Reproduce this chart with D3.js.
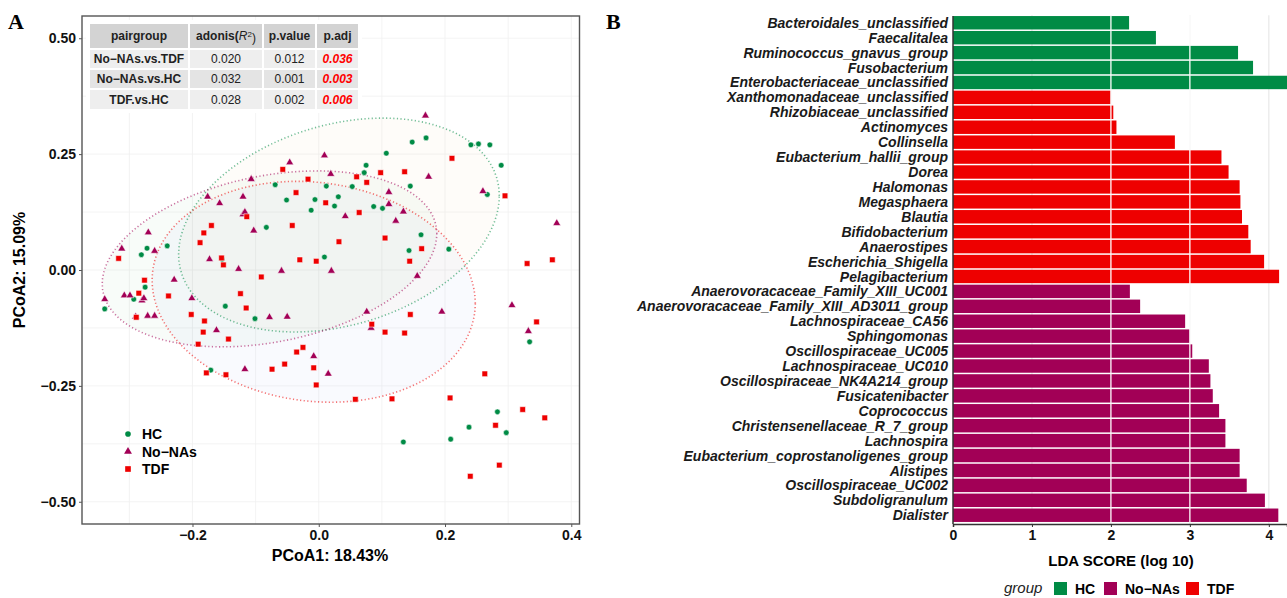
<!DOCTYPE html>
<html>
<head>
<meta charset="utf-8">
<script src="https://cdn.jsdelivr.net/npm/d3@7"></script>
<style>
  body { margin: 0; background: #fff; }
  text { font-family: "Liberation Sans", Arial, sans-serif; }
</style>
</head>
<body>
<div id="chart"></div>
<script>
// ---------- data: panel A (PCoA) ----------
const groups = ["HC", "No\u2212NAs", "TDF"];
const groupColors = ["#008B45", "#A20056", "#EE0000"];
const ellipseFills = ["#E8A050", "#3AA050", "#4A66D8"];

const hcPoints = [
  [-0.272, 0.047], [-0.281, 0.033], [-0.240, 0.052], [-0.153, 0.023], [-0.275, -0.037],
  [-0.293, -0.063], [-0.339, -0.084], [-0.148, -0.078], [-0.171, -0.216], [0.107, 0.252],
  [0.075, 0.226], [0.072, 0.210], [-0.069, 0.184], [0.012, 0.181], [0.053, 0.180],
  [-0.051, 0.151], [-0.006, 0.152], [0.031, 0.158], [-0.012, 0.129], [0.025, 0.138],
  [0.087, 0.137], [0.101, 0.133], [-0.083, 0.092], [0.009, 0.028], [-0.101, -0.105],
  [0.148, 0.276], [0.170, 0.285], [0.241, 0.270], [0.253, 0.272], [0.271, 0.270],
  [0.289, 0.226], [0.145, 0.181], [0.267, 0.163], [0.162, 0.076], [0.143, 0.042],
  [0.206, 0.045], [0.334, -0.155], [0.283, -0.306], [0.238, -0.339], [0.297, -0.351],
  [0.209, -0.365], [0.134, -0.371]
];
const noNAsPoints = [
  [-0.176, 0.158], [-0.157, 0.144], [-0.270, 0.081], [-0.312, 0.046], [-0.260, 0.041],
  [-0.173, 0.023], [-0.127, 0.002], [-0.229, -0.021], [-0.339, -0.063], [-0.308, -0.055],
  [-0.299, -0.055], [-0.280, -0.066], [-0.277, -0.061], [-0.290, -0.101], [-0.271, -0.099],
  [-0.260, -0.099], [-0.201, -0.061], [-0.162, -0.130], [-0.046, 0.232], [0.009, 0.247],
  [-0.107, 0.196], [0.019, 0.207], [-0.120, 0.158], [-0.120, 0.120], [-0.117, 0.125],
  [-0.103, 0.085], [0.042, 0.116], [0.111, 0.168], [0.111, 0.142], [0.122, 0.106],
  [0.134, 0.126], [-0.059, -0.002], [0.020, -0.002], [-0.078, -0.102], [-0.050, -0.101],
  [0.076, -0.090], [0.083, -0.125], [-0.008, -0.186], [0.015, -0.224], [-0.117, -0.214],
  [0.169, 0.333], [0.174, 0.201], [0.260, 0.170], [0.377, 0.101], [0.156, -0.013],
  [0.195, -0.090], [0.306, -0.076], [0.332, -0.132]
];
const tdfPoints = [
  [-0.170, 0.096], [-0.182, 0.080], [-0.188, 0.059], [-0.317, 0.025], [-0.154, 0.026],
  [-0.151, 0.011], [-0.276, -0.022], [-0.285, -0.050], [-0.238, -0.056], [-0.289, -0.102],
  [-0.202, -0.096], [-0.181, -0.110], [-0.183, -0.134], [-0.191, -0.160], [-0.143, -0.149],
  [-0.178, -0.222], [-0.147, -0.226], [-0.124, -0.051], [-0.057, 0.217], [-0.017, 0.196],
  [-0.036, 0.167], [0.060, 0.201], [0.076, 0.189], [0.098, 0.210], [0.136, 0.212],
  [0.011, 0.145], [-0.114, 0.115], [0.064, 0.124], [-0.042, 0.096], [0.032, 0.061],
  [0.105, 0.069], [-0.030, 0.022], [-0.004, 0.019], [-0.091, -0.015], [-0.115, -0.082],
  [0.084, -0.117], [0.105, -0.134], [0.136, -0.136], [-0.035, -0.177], [-0.025, -0.167],
  [-0.054, -0.203], [-0.074, -0.214], [-0.008, -0.211], [-0.004, -0.248], [0.058, -0.279],
  [0.116, -0.278], [0.211, 0.241], [0.295, 0.160], [0.163, 0.046], [0.144, 0.019],
  [0.330, 0.014], [0.370, 0.022], [0.145, -0.096], [0.345, -0.112], [0.263, -0.224],
  [0.208, -0.276], [0.323, -0.301], [0.358, -0.319], [0.280, -0.335], [0.286, -0.421],
  [0.240, -0.445]
];
// ellipse: centre and shape matrix [a11, a21, a22] in data units
const hcEllipse = [0.032, 0.097, 0.254, 0.063, 0.222];
const noNAsEllipse = [-0.078, 0.024, 0.265, 0.054, 0.182];
const tdfEllipse = [-0.008, -0.047, 0.256, -0.025, 0.237];

// adonis table
const tableHeader = ["pairgroup", "adonis", "p.value", "p.adj"];
const pairgroups = ["No\u2212NAs.vs.TDF", "No\u2212NAs.vs.HC", "TDF.vs.HC"];
const adonisR2 = ["0.020", "0.032", "0.028"];
const pValues = ["0.012", "0.001", "0.002"];
const pAdj = ["0.036", "0.003", "0.006"];

// ---------- data: panel B (LEfSe) ----------
const taxa = [
  "Bacteroidales_unclassified", "Faecalitalea", "Ruminococcus_gnavus_group", "Fusobacterium",
  "Enterobacteriaceae_unclassified", "Xanthomonadaceae_unclassified", "Rhizobiaceae_unclassified",
  "Actinomyces", "Collinsella", "Eubacterium_hallii_group", "Dorea", "Halomonas", "Megasphaera",
  "Blautia", "Bifidobacterium", "Anaerostipes", "Escherichia_Shigella", "Pelagibacterium",
  "Anaerovoracaceae_Family_XIII_UC001", "Anaerovoracaceae_Family_XIII_AD3011_group",
  "Lachnospiraceae_CA56", "Sphingomonas", "Oscillospiraceae_UC005", "Lachnospiraceae_UC010",
  "Oscillospiraceae_NK4A214_group", "Fusicatenibacter", "Coprococcus",
  "Christensenellaceae_R_7_group", "Lachnospira", "Eubacterium_coprostanoligenes_group",
  "Alistipes", "Oscillospiraceae_UC002", "Subdoligranulum", "Dialister"
];
const ldaScores = [
  2.23, 2.57, 3.61, 3.80, 4.24, 2.00, 2.03, 2.07, 2.81, 3.40, 3.49, 3.63, 3.64, 3.66, 3.74,
  3.77, 3.94, 4.13, 2.24, 2.37, 2.94, 3.00, 3.03, 3.24, 3.26, 3.29, 3.37, 3.45, 3.45, 3.63,
  3.63, 3.72, 3.95, 4.12
];
const taxaGroup = [
  "HC", "HC", "HC", "HC", "HC",
  "TDF", "TDF", "TDF", "TDF", "TDF", "TDF", "TDF", "TDF", "TDF", "TDF", "TDF", "TDF", "TDF",
  "No\u2212NAs", "No\u2212NAs", "No\u2212NAs", "No\u2212NAs", "No\u2212NAs", "No\u2212NAs", "No\u2212NAs",
  "No\u2212NAs", "No\u2212NAs", "No\u2212NAs", "No\u2212NAs", "No\u2212NAs", "No\u2212NAs", "No\u2212NAs",
  "No\u2212NAs", "No\u2212NAs"
];
const ldaTicks = [0, 1, 2, 3, 4];

const color = d3.scaleOrdinal().domain(groups).range(groupColors);

const svg = d3.select("#chart").append("svg")
  .attr("width", 1287)
  .attr("height", 598)
  .style("background", "#fff");

// panel letters
svg.append("text").attr("x", 8).attr("y", 29)
  .style("font-family", "'Liberation Serif', 'Times New Roman', serif")
  .style("font-weight", "bold").style("font-size", "22px").text("A");
svg.append("text").attr("x", 606).attr("y", 29)
  .style("font-family", "'Liberation Serif', 'Times New Roman', serif")
  .style("font-weight", "bold").style("font-size", "22px").text("B");

/* ---------- Panel A ---------- */
let a = {left: 82, right: 579.5, top: 16, bottom: 524};

let x = d3.scaleLinear().domain([-0.375, 0.413]).range([a.left, a.right]);
let y = d3.scaleLinear().domain([-0.548, 0.548]).range([a.bottom, a.top]);

let pa = svg.append("g");

// grid
pa.selectAll(".gx").data(d3.range(-3, 5).map(d => d / 10))
  .enter().append("line")
  .attr("x1", d => x(d)).attr("x2", d => x(d))
  .attr("y1", a.top).attr("y2", a.bottom)
  .attr("stroke", "#F0F0F0").attr("stroke-width", 0.8);
pa.selectAll(".gy").data(d3.range(-4, 5).map(d => d * 0.125))
  .enter().append("line")
  .attr("y1", d => y(d)).attr("y2", d => y(d))
  .attr("x1", a.left).attr("x2", a.right)
  .attr("stroke", "#F0F0F0").attr("stroke-width", 0.8);

// ellipses
let ellipses = [hcEllipse, noNAsEllipse, tdfEllipse];
let line = d3.line().x(d => x(d[0])).y(d => y(d[1]));
let ellipsePts = e => d3.range(0, 101).map(i => {
  let t = i / 100 * 2 * Math.PI;
  return [e[0] + e[2] * Math.cos(t), e[1] + e[3] * Math.cos(t) + e[4] * Math.sin(t)];
});
pa.selectAll(".ell-fill").data(ellipses)
  .enter().append("path")
  .attr("d", d => line(ellipsePts(d)) + "Z")
  .attr("fill", (d, i) => ellipseFills[i])
  .attr("fill-opacity", 0.035)
  .attr("stroke", "none");
pa.selectAll(".ell-line").data(ellipses)
  .enter().append("path")
  .attr("d", d => line(ellipsePts(d)) + "Z")
  .attr("fill", "none")
  .attr("stroke", (d, i) => groupColors[i])
  .attr("stroke-opacity", 0.55)
  .attr("stroke-width", 1.6)
  .attr("stroke-dasharray", "1.2,2.4");

// points
let symbolTypes = [d3.symbolCircle, d3.symbolTriangle, d3.symbolSquare];
let symbolSizes = [25, 27, 32];
[hcPoints, noNAsPoints, tdfPoints].forEach((pts, gi) => {
  pa.selectAll(".pt" + gi).data(pts)
    .enter().append("path")
    .attr("d", d3.symbol().type(symbolTypes[gi]).size(symbolSizes[gi]))
    .attr("transform", d => `translate(${x(d[0])},${y(d[1])})`)
    .attr("fill", groupColors[gi])
    .attr("stroke", "#fff")
    .attr("stroke-opacity", 0.7)
    .attr("stroke-width", 0.8);
});

// border
pa.append("rect")
  .attr("x", a.left).attr("y", a.top)
  .attr("width", a.right - a.left).attr("height", a.bottom - a.top)
  .attr("fill", "none").attr("stroke", "#555").attr("stroke-width", 1.4);

// axes
let xAxis = pa.append("g").attr("transform", `translate(0,${a.bottom})`)
  .call(d3.axisBottom(x).tickValues([-0.2, 0, 0.2, 0.4]).tickFormat(d3.format(".1f")).tickSize(3).tickPadding(3));
let yAxis = pa.append("g").attr("transform", `translate(${a.left},0)`)
  .call(d3.axisLeft(y).tickValues([-0.5, -0.25, 0, 0.25, 0.5]).tickFormat(d3.format(".2f")).tickSize(3).tickPadding(3));
[xAxis, yAxis].forEach(ax => {
  ax.select(".domain").remove();
  ax.selectAll(".tick line").attr("stroke", "#555");
  ax.selectAll(".tick text").attr("fill", "#111")
    .style("font-size", "14px").style("font-weight", "bold");
});

pa.append("text").attr("x", 330).attr("y", 561)
  .attr("text-anchor", "middle")
  .style("font-size", "16px").style("font-weight", "bold")
  .text("PCoA1: 18.43%");
pa.append("text")
  .attr("transform", "translate(25,270) rotate(-90)")
  .attr("text-anchor", "middle")
  .style("font-size", "16px").style("font-weight", "bold")
  .text("PCoA2: 15.09%");

// legend A
let legA = pa.append("g");
groups.forEach((g, i) => {
  legA.append("path")
    .attr("d", d3.symbol().type(symbolTypes[i]).size(symbolSizes[i]))
    .attr("transform", `translate(128,${434 + i * 17.5})`)
    .attr("fill", groupColors[i]);
  legA.append("text")
    .attr("x", 142).attr("y", 434 + i * 17.5).attr("dy", "0.36em")
    .style("font-size", "14px").style("font-weight", "bold")
    .text(g);
});

// adonis table
let colX = [90, 190, 264, 317], colW = [98, 72, 51, 41];
let rowY = [24, 50, 70, 90], rowH = [24, 18, 18, 19];
let rowFill = ["#D3D3D3", "#EEEEEE", "#E4E4E4", "#EEEEEE"];
let tbl = pa.append("g");
tbl.append("rect").attr("x", 86).attr("y", 20).attr("width", 276).attr("height", 93).attr("fill", "#fff");
let tableRows = [tableHeader].concat(pairgroups.map((p, i) => [p, adonisR2[i], pValues[i], pAdj[i]]));
tableRows.forEach((row, r) => {
  row.forEach((cell, c) => {
    tbl.append("rect")
      .attr("x", colX[c]).attr("y", rowY[r])
      .attr("width", colW[c]).attr("height", rowH[r])
      .attr("fill", rowFill[r]);
    let t = tbl.append("text")
      .attr("x", colX[c] + colW[c] / 2).attr("y", rowY[r] + rowH[r] / 2)
      .attr("dy", "0.36em").attr("text-anchor", "middle")
      .style("font-size", "12px")
      .attr("fill", "#222");
    if (r === 0 && c === 1) {
      t.style("font-weight", "bold");
      t.append("tspan").text("adonis(");
      t.append("tspan").style("font-style", "italic").style("font-weight", "normal").text("R");
      t.append("tspan").attr("dy", "-0.4em").style("font-size", "8px").style("font-weight", "normal").text("2");
      t.append("tspan").attr("dy", "0.4em").style("font-weight", "normal").text(")");
    } else {
      t.text(cell);
      if (r === 0 || c === 0) t.style("font-weight", "bold");
      if (r > 0 && c === 3) t.style("font-weight", "bold").style("font-style", "italic").attr("fill", "#FF0000");
    }
  });
});

/* ---------- Panel B ---------- */
let b = {left: 953, right: 1287, top: 15.3, bottom: 522.7};
let xb = d3.scaleLinear().domain([0, 4.23]).range([b.left, b.right]);
let yb = d3.scaleBand().domain(taxa).range([b.top, b.bottom]).paddingInner(0.1).paddingOuter(0.05);

let pb = svg.append("g");
pb.append("clipPath").attr("id", "clipB")
  .append("rect").attr("x", b.left).attr("y", 0).attr("width", b.right - b.left).attr("height", 530);

pb.selectAll(".gb").data(ldaTicks.slice(1))
  .enter().append("line")
  .attr("x1", d => xb(d)).attr("x2", d => xb(d))
  .attr("y1", b.top).attr("y2", 524)
  .attr("stroke", "#E8E8E8").attr("stroke-width", 1.2);

pb.append("g").attr("clip-path", "url(#clipB)")
  .selectAll(".bar").data(taxa)
  .enter().append("rect")
  .attr("x", xb(0))
  .attr("y", d => yb(d))
  .attr("width", (d, i) => xb(ldaScores[i]) - xb(0))
  .attr("height", yb.bandwidth())
  .attr("fill", (d, i) => color(taxaGroup[i]));

// white grid lines over bars
pb.selectAll(".gw").data([2, 3])
  .enter().append("line")
  .attr("x1", d => xb(d)).attr("x2", d => xb(d))
  .attr("y1", b.top).attr("y2", b.bottom)
  .attr("stroke", "#fff").attr("stroke-width", 1.3);

// labels
pb.selectAll(".lab").data(taxa)
  .enter().append("text")
  .attr("x", b.left - 5)
  .attr("y", d => yb(d) + yb.bandwidth() / 2)
  .attr("dy", "0.36em")
  .attr("text-anchor", "end")
  .style("font-size", "14px").style("font-weight", "bold").style("font-style", "italic")
  .attr("fill", "#1a1a1a")
  .text(d => d);

// axes B
pb.append("line").attr("x1", b.left).attr("x2", b.left).attr("y1", 16).attr("y2", 524)
  .attr("stroke", "#333").attr("stroke-width", 1.5);
let xbAxis = pb.append("g").attr("transform", "translate(0,524)")
  .call(d3.axisBottom(xb).tickValues(ldaTicks).tickFormat(d3.format("d")).tickSize(3).tickPadding(3));
xbAxis.select(".domain").attr("stroke", "#333").attr("stroke-width", 1.5);
xbAxis.selectAll(".tick line").attr("stroke", "#333");
xbAxis.selectAll(".tick text").attr("fill", "#111").style("font-size", "14px").style("font-weight", "bold");

pb.append("text").attr("x", 1121).attr("y", 566)
  .attr("text-anchor", "middle")
  .style("font-size", "15px").style("font-weight", "bold")
  .text("LDA SCORE (log 10)");

// legend B
let legB = pb.append("g");
legB.append("text").attr("x", 1004).attr("y", 588).attr("dy", "0.36em")
  .style("font-size", "15px").style("font-style", "italic").attr("fill", "#222").text("group");
let legX = [1054, 1104, 1186];
groups.forEach((g, i) => {
  legB.append("rect").attr("x", legX[i]).attr("y", 582).attr("width", 13).attr("height", 13)
    .attr("fill", groupColors[i]);
  legB.append("text").attr("x", legX[i] + 21).attr("y", 588.5).attr("dy", "0.36em")
    .style("font-size", "14px").style("font-weight", "bold").text(g);
});
</script>
</body>
</html>
